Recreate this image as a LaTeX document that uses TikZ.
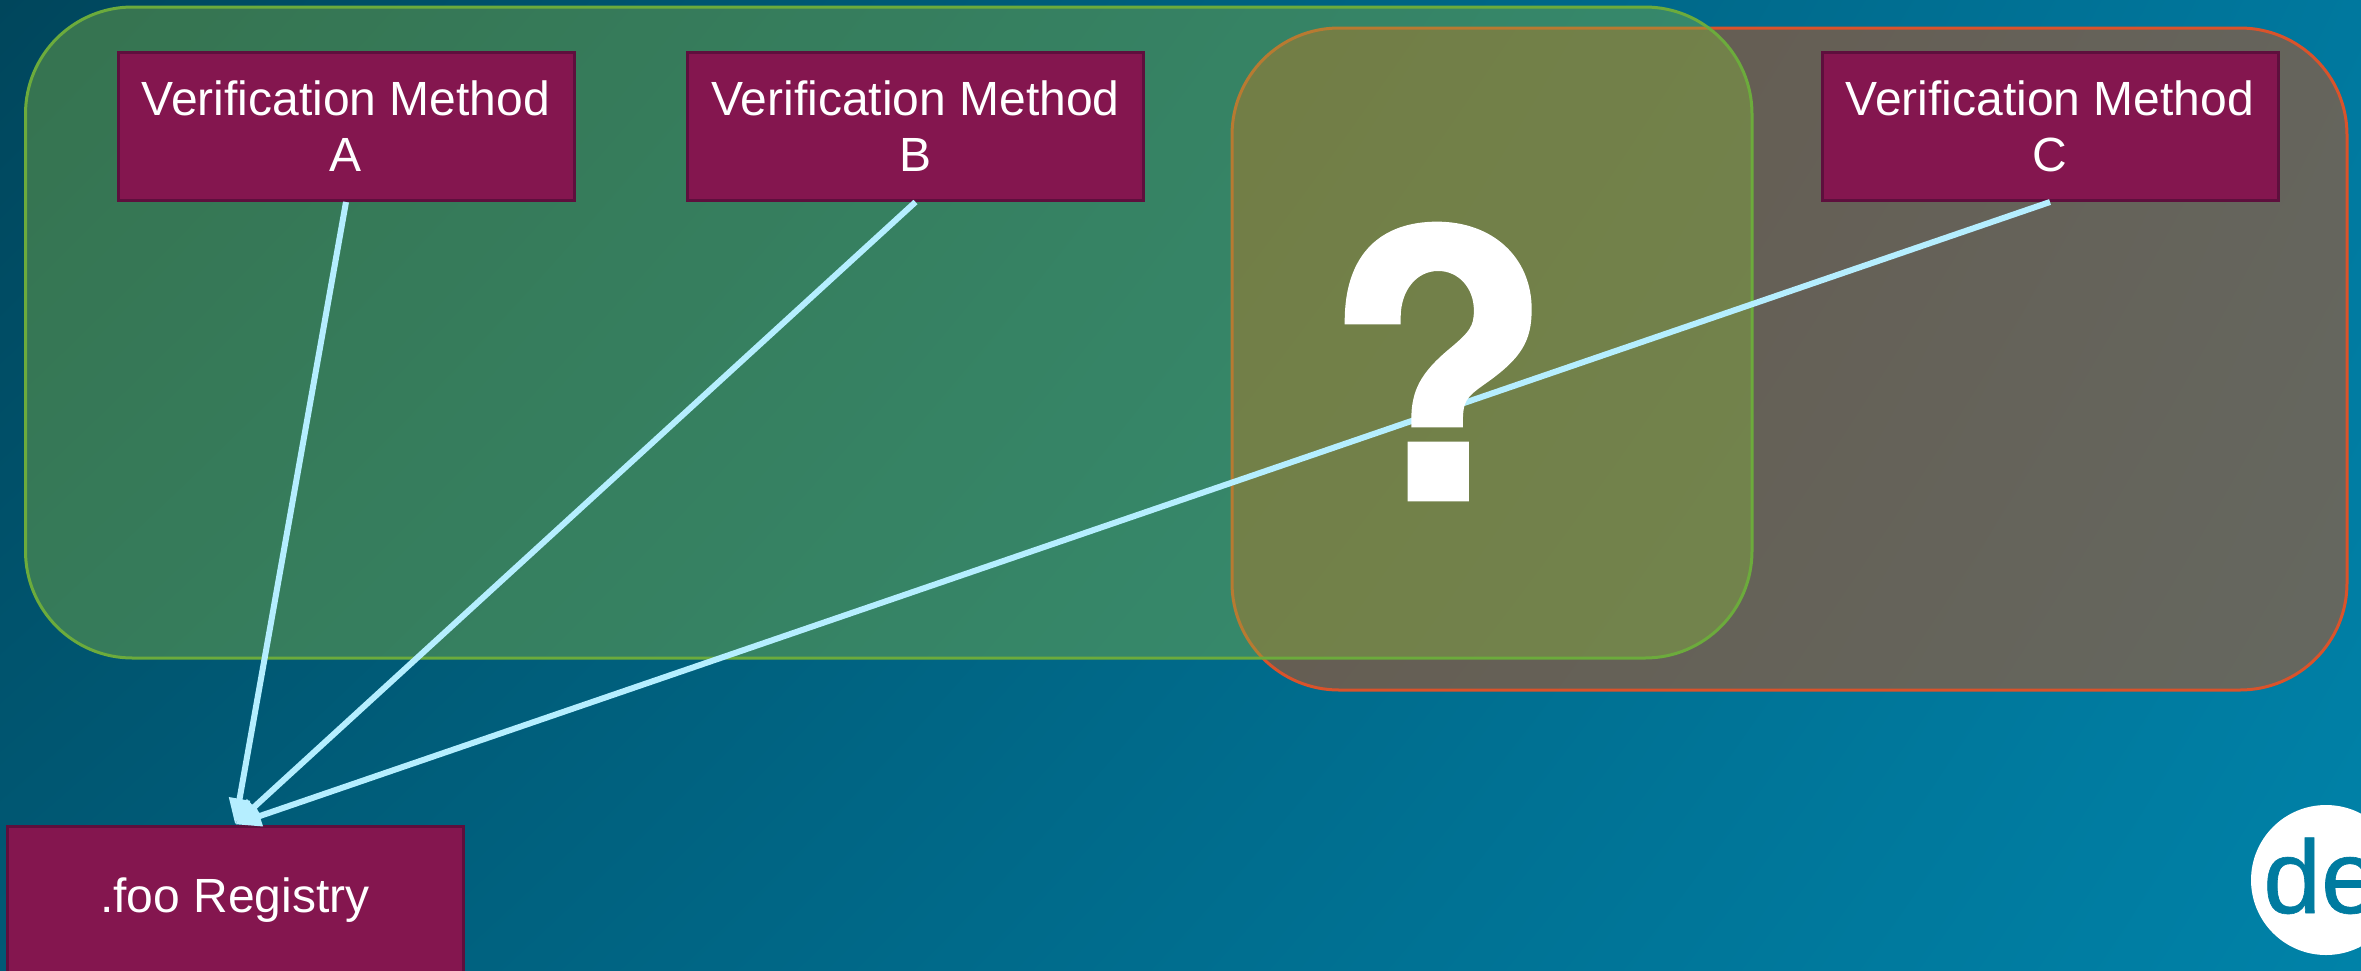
\documentclass[tikz,border=0pt]{standalone}
\usepackage{fontspec}
\setmainfont{Liberation Sans}
\newfontfamily\qfont[BoldFeatures={FakeBold=1.6}]{TeX Gyre Heros}
\newfontfamily\logofont[FakeBold=0.6]{Liberation Sans}
\usetikzlibrary{arrows.meta,shadings}
\definecolor{bgTL}{HTML}{00465C}
\definecolor{bgTR}{HTML}{00789E}
\definecolor{bgBL}{HTML}{005A76}
\definecolor{bgBR}{HTML}{0082A8}
\definecolor{grp}{HTML}{87B63C}
\definecolor{grpline}{HTML}{6CAB3C}
\definecolor{org}{HTML}{CA521C}
\definecolor{orgline}{HTML}{D9532B}
\definecolor{wine}{HTML}{84164F}
\definecolor{wineline}{HTML}{5E0F3D}
\definecolor{link}{HTML}{B5EEFF}
\definecolor{logoink}{HTML}{007BA0}
\tikzset{
  box/.style={draw=wineline,line width=3pt,fill=wine,text=white,minimum width=456pt,minimum height=148pt,
    inner sep=0pt,align=center,font=\fontsize{48}{56}\selectfont},
  linkline/.style={draw=link,line width=6pt,-{Triangle[length=26pt,width=20pt,fill=link]}},
  group/.style={rounded corners=107pt,line width=3pt},
}
\begin{document}
\begin{tikzpicture}[x=1pt,y=-1pt]
\useasboundingbox (0,0) rectangle (2361,970);
\clip (0,0) rectangle (2361,970);
\shade[upper left=bgTL,upper right=bgTR,lower left=bgBL,lower right=bgBR] (0,0) rectangle (2361,970);
\draw[group,draw=orgline,fill=org,fill opacity=0.5] (1232,28) rectangle (2347,690);
\draw[group,draw=grpline,fill=grp,fill opacity=0.4] (25.5,7) rectangle (1752,658);
\node[box] (a) at (346,126.5) {Verification Method\\A};
\node[box] (b) at (915.5,126.5) {Verification Method\\B};
\node[box] (c) at (2050,126.5) {Verification Method\\C};
\node[box,minimum height=148pt] (reg) at (235,900) {.foo Registry};
\draw[linkline] (a.south) -- (reg.north);
\draw[linkline] (b.south) -- (reg.north);
\draw[linkline] (c.south) -- (reg.north);
\node[text=white,inner sep=0pt,anchor=center,font=\fontsize{368}{368}\qfont\bfseries] (q) at (1438,361.5) {?};
\node[circle,fill=white,minimum size=150pt,inner sep=0pt] (logo) at (2326,880) {};
\node[anchor=base west,inner sep=0pt,text=logoink,font=\fontsize{104}{104}\logofont] (logotext) at (2263,913) {de};
\end{tikzpicture}
\end{document}
